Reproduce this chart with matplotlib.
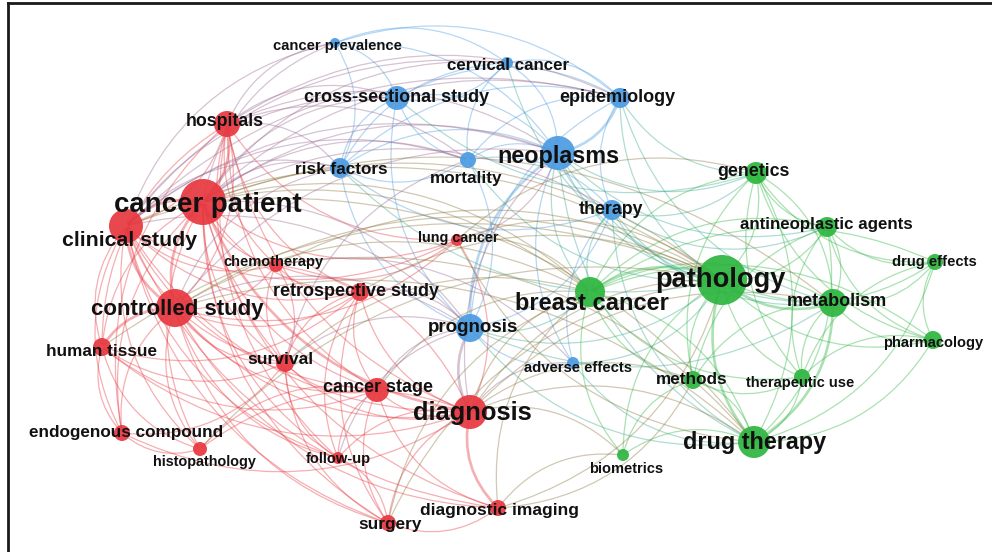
import matplotlib
matplotlib.use("Agg")
import matplotlib.pyplot as plt
from matplotlib.patches import Circle, FancyArrowPatch
from matplotlib.colors import to_rgb

# keyword co-occurrence map: terms, layout coordinates, cluster, node weight
terms = ["cancer patient", "clinical study", "hospitals", "controlled study",
         "human tissue", "endogenous compound", "histopathology", "chemotherapy",
         "retrospective study", "survival", "cancer stage", "diagnosis",
         "follow-up", "surgery", "diagnostic imaging", "lung cancer",
         "cancer prevalence", "cervical cancer", "cross-sectional study",
         "epidemiology", "neoplasms", "mortality", "risk factors", "therapy",
         "prognosis", "adverse effects",
         "genetics", "antineoplastic agents", "drug effects", "pathology",
         "breast cancer", "metabolism", "pharmacology", "methods",
         "therapeutic use", "drug therapy", "biometrics"]
x = [203, 126, 227, 175, 102, 122, 200, 276, 360, 285, 377, 470, 338, 388, 498, 457,
     335, 507, 397, 620, 558, 468, 340, 612, 470, 573,
     756, 827, 935, 722, 590, 833, 933, 693, 802, 754, 623]
y = [202, 226, 124, 308, 347, 433, 449, 265, 292, 363, 390, 412, 458, 523, 508, 240,
     43, 63, 98, 98, 153, 160, 168, 210, 328, 363,
     173, 227, 262, 280, 292, 303, 340, 380, 377, 442, 455]
cluster = [1] * 16 + [2] * 10 + [3] * 11
weight = [23, 17, 13, 19, 9, 8, 7, 7, 9, 9, 12, 17, 6, 8, 8, 6,
          5, 6, 12, 10, 17, 8, 10, 10, 14, 6,
          11, 10, 8, 25, 15, 14, 9, 9, 8, 16, 6]

# links between terms
links = [
    ("cancer patient", "clinical study"), ("cancer patient", "hospitals"),
    ("cancer patient", "controlled study"), ("cancer patient", "human tissue"),
    ("cancer patient", "endogenous compound"), ("cancer patient", "histopathology"),
    ("cancer patient", "chemotherapy"), ("cancer patient", "retrospective study"),
    ("cancer patient", "survival"), ("cancer patient", "cancer stage"),
    ("cancer patient", "diagnosis"), ("cancer patient", "follow-up"),
    ("cancer patient", "surgery"), ("cancer patient", "diagnostic imaging"),
    ("cancer patient", "lung cancer"),
    ("clinical study", "hospitals"), ("clinical study", "controlled study"),
    ("clinical study", "human tissue"), ("clinical study", "endogenous compound"),
    ("clinical study", "histopathology"), ("clinical study", "chemotherapy"),
    ("clinical study", "retrospective study"), ("clinical study", "survival"),
    ("clinical study", "cancer stage"), ("clinical study", "diagnosis"),
    ("clinical study", "surgery"), ("clinical study", "follow-up"),
    ("clinical study", "diagnostic imaging"), ("clinical study", "lung cancer"),
    ("controlled study", "hospitals"), ("controlled study", "human tissue"),
    ("controlled study", "endogenous compound"), ("controlled study", "histopathology"),
    ("controlled study", "chemotherapy"), ("controlled study", "retrospective study"),
    ("controlled study", "survival"), ("controlled study", "cancer stage"),
    ("controlled study", "diagnosis"), ("controlled study", "follow-up"),
    ("controlled study", "surgery"), ("controlled study", "diagnostic imaging"),
    ("controlled study", "lung cancer"),
    ("hospitals", "retrospective study"), ("hospitals", "survival"),
    ("hospitals", "chemotherapy"), ("hospitals", "diagnosis"),
    ("hospitals", "human tissue"), ("hospitals", "lung cancer"),
    ("hospitals", "cancer stage"), ("hospitals", "endogenous compound"),
    ("hospitals", "follow-up"),
    ("human tissue", "endogenous compound"), ("human tissue", "histopathology"),
    ("human tissue", "survival"), ("human tissue", "diagnosis"),
    ("human tissue", "retrospective study"), ("human tissue", "cancer stage"),
    ("endogenous compound", "histopathology"), ("endogenous compound", "diagnosis"),
    ("endogenous compound", "survival"),
    ("retrospective study", "survival"), ("retrospective study", "cancer stage"),
    ("retrospective study", "diagnosis"), ("retrospective study", "follow-up"),
    ("retrospective study", "surgery"),
    ("survival", "cancer stage"), ("survival", "diagnosis"),
    ("survival", "follow-up"), ("survival", "chemotherapy"), ("survival", "surgery"),
    ("cancer stage", "diagnosis"), ("cancer stage", "surgery"),
    ("cancer stage", "follow-up"), ("cancer stage", "diagnostic imaging"),
    ("cancer stage", "histopathology"),
    ("diagnosis", "surgery"), ("diagnosis", "diagnostic imaging"),
    ("diagnosis", "follow-up"), ("diagnosis", "histopathology"),
    ("diagnosis", "lung cancer"), ("diagnosis", "chemotherapy"),
    ("surgery", "diagnostic imaging"), ("surgery", "follow-up"),
    ("chemotherapy", "retrospective study"), ("chemotherapy", "survival"),
    ("chemotherapy", "lung cancer"),
    ("neoplasms", "epidemiology"), ("neoplasms", "cervical cancer"),
    ("neoplasms", "cross-sectional study"), ("neoplasms", "mortality"),
    ("neoplasms", "risk factors"), ("neoplasms", "therapy"),
    ("neoplasms", "prognosis"), ("neoplasms", "cancer prevalence"),
    ("neoplasms", "adverse effects"),
    ("epidemiology", "cervical cancer"), ("epidemiology", "cross-sectional study"),
    ("epidemiology", "mortality"), ("epidemiology", "risk factors"),
    ("epidemiology", "therapy"), ("epidemiology", "prognosis"),
    ("epidemiology", "cancer prevalence"),
    ("cross-sectional study", "cancer prevalence"), ("cross-sectional study", "cervical cancer"),
    ("cross-sectional study", "risk factors"), ("cross-sectional study", "mortality"),
    ("cross-sectional study", "prognosis"),
    ("risk factors", "mortality"), ("risk factors", "prognosis"),
    ("risk factors", "cancer prevalence"), ("risk factors", "therapy"),
    ("prognosis", "therapy"), ("prognosis", "mortality"), ("prognosis", "adverse effects"),
    ("therapy", "adverse effects"), ("therapy", "mortality"),
    ("cervical cancer", "cancer prevalence"), ("cervical cancer", "mortality"),
    ("cervical cancer", "risk factors"),
    ("pathology", "genetics"), ("pathology", "antineoplastic agents"),
    ("pathology", "drug effects"), ("pathology", "metabolism"),
    ("pathology", "pharmacology"), ("pathology", "methods"),
    ("pathology", "therapeutic use"), ("pathology", "drug therapy"),
    ("pathology", "breast cancer"), ("pathology", "biometrics"),
    ("drug therapy", "genetics"), ("drug therapy", "antineoplastic agents"),
    ("drug therapy", "metabolism"), ("drug therapy", "pharmacology"),
    ("drug therapy", "methods"), ("drug therapy", "therapeutic use"),
    ("drug therapy", "breast cancer"), ("drug therapy", "biometrics"),
    ("drug therapy", "drug effects"),
    ("metabolism", "genetics"), ("metabolism", "antineoplastic agents"),
    ("metabolism", "drug effects"), ("metabolism", "pharmacology"),
    ("metabolism", "methods"), ("metabolism", "therapeutic use"),
    ("metabolism", "breast cancer"),
    ("genetics", "antineoplastic agents"), ("genetics", "breast cancer"),
    ("genetics", "drug effects"), ("genetics", "methods"),
    ("genetics", "pharmacology"), ("genetics", "therapeutic use"),
    ("antineoplastic agents", "drug effects"), ("antineoplastic agents", "pharmacology"),
    ("antineoplastic agents", "therapeutic use"), ("antineoplastic agents", "breast cancer"),
    ("antineoplastic agents", "methods"),
    ("drug effects", "pharmacology"), ("drug effects", "therapeutic use"),
    ("drug effects", "breast cancer"),
    ("pharmacology", "therapeutic use"), ("pharmacology", "breast cancer"),
    ("breast cancer", "methods"), ("breast cancer", "biometrics"),
    ("breast cancer", "therapeutic use"),
    ("methods", "therapeutic use"), ("methods", "biometrics"),
    ("neoplasms", "pathology"), ("neoplasms", "breast cancer"),
    ("neoplasms", "genetics"), ("neoplasms", "drug therapy"),
    ("neoplasms", "diagnosis"), ("neoplasms", "cancer patient"),
    ("neoplasms", "metabolism"), ("neoplasms", "hospitals"),
    ("neoplasms", "clinical study"), ("neoplasms", "controlled study"),
    ("neoplasms", "antineoplastic agents"),
    ("epidemiology", "genetics"), ("epidemiology", "pathology"),
    ("epidemiology", "hospitals"), ("epidemiology", "cancer patient"),
    ("epidemiology", "clinical study"), ("epidemiology", "metabolism"),
    ("therapy", "pathology"), ("therapy", "drug therapy"),
    ("therapy", "breast cancer"), ("therapy", "metabolism"), ("therapy", "genetics"),
    ("therapy", "cancer patient"), ("therapy", "antineoplastic agents"),
    ("prognosis", "diagnosis"), ("prognosis", "cancer patient"),
    ("prognosis", "cancer stage"), ("prognosis", "survival"),
    ("prognosis", "breast cancer"), ("prognosis", "pathology"),
    ("prognosis", "controlled study"), ("prognosis", "retrospective study"),
    ("prognosis", "follow-up"), ("prognosis", "drug therapy"),
    ("prognosis", "clinical study"), ("prognosis", "metabolism"),
    ("mortality", "cancer patient"), ("mortality", "hospitals"), ("mortality", "survival"),
    ("mortality", "pathology"), ("mortality", "clinical study"),
    ("risk factors", "cancer patient"), ("risk factors", "hospitals"),
    ("risk factors", "clinical study"), ("risk factors", "controlled study"),
    ("risk factors", "pathology"),
    ("cross-sectional study", "hospitals"), ("cross-sectional study", "cancer patient"),
    ("cross-sectional study", "clinical study"), ("cross-sectional study", "genetics"),
    ("cancer prevalence", "hospitals"), ("cancer prevalence", "cancer patient"),
    ("cancer prevalence", "clinical study"),
    ("cervical cancer", "cancer patient"), ("cervical cancer", "clinical study"),
    ("cervical cancer", "pathology"),
    ("breast cancer", "diagnosis"), ("breast cancer", "cancer patient"),
    ("breast cancer", "lung cancer"), ("breast cancer", "controlled study"),
    ("breast cancer", "survival"), ("breast cancer", "cancer stage"),
    ("breast cancer", "surgery"), ("breast cancer", "diagnostic imaging"),
    ("breast cancer", "clinical study"),
    ("pathology", "diagnosis"), ("pathology", "cancer patient"),
    ("pathology", "controlled study"), ("pathology", "lung cancer"),
    ("pathology", "clinical study"), ("pathology", "chemotherapy"),
    ("pathology", "retrospective study"), ("pathology", "human tissue"),
    ("pathology", "histopathology"), ("pathology", "surgery"),
    ("drug therapy", "diagnosis"), ("drug therapy", "chemotherapy"),
    ("drug therapy", "cancer patient"), ("drug therapy", "controlled study"),
    ("metabolism", "diagnosis"), ("metabolism", "cancer patient"),
    ("methods", "diagnosis"), ("genetics", "lung cancer"),
    ("biometrics", "diagnosis"), ("biometrics", "diagnostic imaging"),
    ("adverse effects", "diagnosis"), ("adverse effects", "chemotherapy"),
    ("adverse effects", "drug therapy"), ("adverse effects", "pathology"),
    ("lung cancer", "neoplasms"), ("lung cancer", "drug therapy"),
    ("diagnostic imaging", "pathology"), ("diagnostic imaging", "methods"),
]

# stronger links drawn thicker
strong = {("cancer patient", "clinical study"), ("cancer patient", "controlled study"),
          ("clinical study", "controlled study"), ("cancer patient", "hospitals"),
          ("controlled study", "human tissue"), ("cancer patient", "diagnosis"),
          ("pathology", "drug therapy"), ("pathology", "metabolism"),
          ("pathology", "breast cancer"), ("neoplasms", "epidemiology"),
          ("neoplasms", "prognosis"), ("drug therapy", "metabolism"),
          ("prognosis", "diagnosis"), ("diagnosis", "diagnostic imaging")}

# label font size (pt) and label offset from the node centre
label_size = [19.9, 15.3, 12.8, 16.0, 12.3, 12.3, 10.4, 10.5, 13.0, 12.6, 13.0, 18.4,
              10.5, 12.4, 12.5, 10.4,
              10.6, 12.2, 13.0, 13.0, 16.8, 12.3, 12.3, 12.8, 13.5, 10.6,
              12.8, 12.2, 10.6, 19.6, 17.0, 13.0, 10.5, 12.3, 10.5, 16.8, 10.5]
label_off = [(5, 3), (4, 15), (-2, -2), (2, 1), (0, 5), (4, 0), (4, 13), (-3, -3),
             (-4, 0), (-5, -4), (1, -2), (2, 1), (0, 1), (2, 1), (2, 2), (1, -2),
             (2, 3), (1, 2), (0, 0), (-3, 0), (0, 4), (-2, 19), (1, 2), (-1, -1),
             (3, 0), (5, 5),
             (-3, -1), (-1, -2), (-1, 0), (-2, 0), (2, 12), (4, -1), (0, 3), (-1, -1),
             (-2, 6), (1, 0), (3, 14)]

node_col = {1: "#e8373f", 2: "#4b9be2", 3: "#2db63f"}
idx = {t: i for i, t in enumerate(terms)}

fig = plt.figure(figsize=(9.92, 5.52), dpi=100)
ax = fig.add_axes([0, 0, 1, 1])
ax.set_xlim(0, 992)
ax.set_ylim(552, 0)
ax.axis("off")

# links: curved, semi-transparent, colour mixed from both clusters
for a, b in links:
    i, j = idx[a], idx[b]
    ca = to_rgb(node_col[cluster[i]])
    cb = to_rgb(node_col[cluster[j]])
    col = tuple((p + q) / 2 for p, q in zip(ca, cb))
    lw = 1.9 if (a, b) in strong else 0.9
    arc = FancyArrowPatch((x[i], y[i]), (x[j], y[j]),
                          connectionstyle="arc3,rad=0.28", arrowstyle="-",
                          color=col, alpha=0.4, lw=lw, zorder=1)
    ax.add_patch(arc)

# nodes
for k in range(len(terms)):
    ax.add_patch(Circle((x[k], y[k]), weight[k], color=node_col[cluster[k]],
                        alpha=0.92, lw=0, zorder=2))

# labels
for k, t in enumerate(terms):
    dx, dy = label_off[k]
    ax.text(x[k] + dx, y[k] + dy, t, fontsize=label_size[k], fontweight="bold",
            family="Liberation Sans", color="#111111", ha="center", va="center",
            zorder=3)

# frame lines on the top and left edge
ax.plot([8, 992], [3, 3], color="#1a1a1a", lw=2, zorder=4, clip_on=False)
ax.plot([8, 8], [3, 552], color="#1a1a1a", lw=2, zorder=4, clip_on=False)

fig.savefig("out.png", dpi=100)
